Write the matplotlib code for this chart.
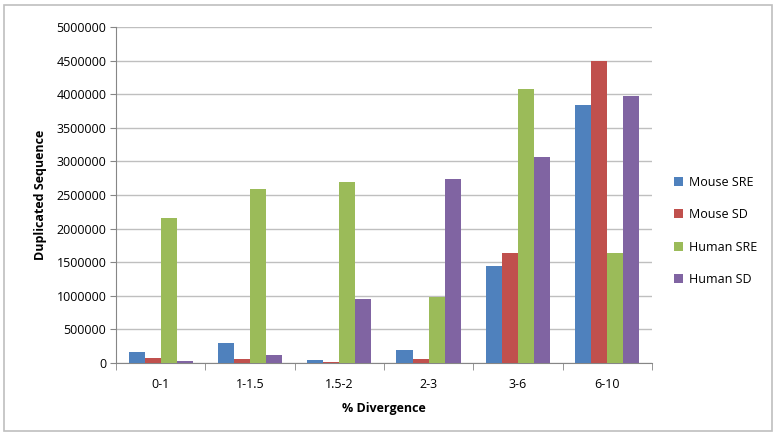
import numpy as np
import matplotlib.pyplot as plt
from matplotlib.patches import Rectangle

# Datos
categorias = ['0-1', '1-1.5', '1.5-2', '2-3', '3-6', '6-10']
mouse_sre = [160000, 300000, 40000, 190000, 1450000, 3840000]
mouse_sd = [80000, 55000, 20000, 60000, 1630000, 4500000]
human_sre = [2160000, 2590000, 2700000, 980000, 4070000, 1630000]
human_sd = [35000, 120000, 950000, 2730000, 3060000, 3970000]

series = [('Mouse SRE', mouse_sre, '#4F81BD'),
          ('Mouse SD', mouse_sd, '#C0504D'),
          ('Human SRE', human_sre, '#9BBB59'),
          ('Human SD', human_sd, '#8064A2')]

plt.rcParams['font.family'] = ['Open Sans', 'DejaVu Sans']
fs = 9

fig = plt.figure(figsize=(7.76, 4.34), dpi=100)
ax = fig.add_axes([0.1495, 0.1636, 0.6905, 0.7744])

# Borde exterior del grafico
fig.patches.append(Rectangle((0.005, 0.008), 0.99, 0.98, transform=fig.transFigure,
                             fill=False, edgecolor='#BFBFBF', linewidth=1.2))

x = np.arange(len(categorias))
ancho = 0.18
for i, (nombre, valores, color) in enumerate(series):
    ax.bar(x + (i - 1.5) * ancho, valores, ancho, color=color, label=nombre, zorder=3)

ax.set_xlim(-0.5, len(categorias) - 0.5)
ax.set_ylim(0, 5000000)
ax.set_yticks(np.arange(0, 5000001, 500000))
ax.set_yticklabels([str(v) for v in range(0, 5000001, 500000)], fontsize=fs)
ax.set_xticks(x)
ax.set_xticklabels(categorias, fontsize=fs)
ax.set_xticks(np.arange(-0.5, len(categorias), 1), minor=True)
ax.tick_params(axis='x', which='major', length=0, pad=11)
ax.tick_params(axis='x', which='minor', length=5, color='#868686')
ax.tick_params(axis='y', length=4, color='#868686', pad=3)

ax.grid(axis='y', color='#BFBFBF', linewidth=1, zorder=0)
for lado in ['top', 'right']:
    ax.spines[lado].set_visible(False)
for lado in ['left', 'bottom']:
    ax.spines[lado].set_color('#868686')

ax.set_xlabel('% Divergence', fontsize=fs, fontweight='bold', labelpad=8)
ax.set_ylabel('Duplicated Sequence', fontsize=fs, fontweight='bold', labelpad=7)

ax.legend(loc='center left', bbox_to_anchor=(1.02, 0.393), frameon=False,
          fontsize=fs, handlelength=0.7, handleheight=0.7, labelspacing=1.55,
          handletextpad=0.5)

plt.savefig('out.png', dpi=100)
